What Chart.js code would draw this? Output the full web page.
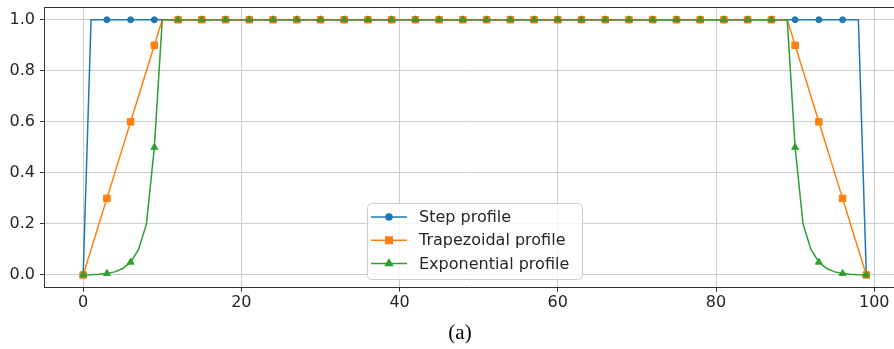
<!DOCTYPE html>
<html lang="en">
<head>
    <meta charset="UTF-8">
    <title>Profiles</title>
    <script src="https://cdn.jsdelivr.net/npm/chart.js"></script>
    <style>
        body {
            margin: 0;
            background: #ffffff;
        }
        .wrap {
            width: 894px;
            height: 349px;
        }
    </style>
</head>
<body>
    <div class="wrap">
        <canvas id="profileChart" width="894" height="349"></canvas>
    </div>

    <script>
        // sample positions (0..99)
        const xs = [
            0, 1, 2, 3, 4, 5, 6, 7, 8, 9,
            10, 11, 12, 13, 14, 15, 16, 17, 18, 19,
            20, 21, 22, 23, 24, 25, 26, 27, 28, 29,
            30, 31, 32, 33, 34, 35, 36, 37, 38, 39,
            40, 41, 42, 43, 44, 45, 46, 47, 48, 49,
            50, 51, 52, 53, 54, 55, 56, 57, 58, 59,
            60, 61, 62, 63, 64, 65, 66, 67, 68, 69,
            70, 71, 72, 73, 74, 75, 76, 77, 78, 79,
            80, 81, 82, 83, 84, 85, 86, 87, 88, 89,
            90, 91, 92, 93, 94, 95, 96, 97, 98, 99
        ];

        const stepProfile = [
            0, 1, 1, 1, 1, 1, 1, 1, 1, 1,
            1, 1, 1, 1, 1, 1, 1, 1, 1, 1,
            1, 1, 1, 1, 1, 1, 1, 1, 1, 1,
            1, 1, 1, 1, 1, 1, 1, 1, 1, 1,
            1, 1, 1, 1, 1, 1, 1, 1, 1, 1,
            1, 1, 1, 1, 1, 1, 1, 1, 1, 1,
            1, 1, 1, 1, 1, 1, 1, 1, 1, 1,
            1, 1, 1, 1, 1, 1, 1, 1, 1, 1,
            1, 1, 1, 1, 1, 1, 1, 1, 1, 1,
            1, 1, 1, 1, 1, 1, 1, 1, 1, 0
        ];

        const trapezoidalProfile = [
            0, 0.1, 0.2, 0.3, 0.4, 0.5, 0.6, 0.7, 0.8, 0.9,
            1, 1, 1, 1, 1, 1, 1, 1, 1, 1,
            1, 1, 1, 1, 1, 1, 1, 1, 1, 1,
            1, 1, 1, 1, 1, 1, 1, 1, 1, 1,
            1, 1, 1, 1, 1, 1, 1, 1, 1, 1,
            1, 1, 1, 1, 1, 1, 1, 1, 1, 1,
            1, 1, 1, 1, 1, 1, 1, 1, 1, 1,
            1, 1, 1, 1, 1, 1, 1, 1, 1, 1,
            1, 1, 1, 1, 1, 1, 1, 1, 1, 1,
            0.9, 0.8, 0.7, 0.6, 0.5, 0.4, 0.3, 0.2, 0.1, 0
        ];

        const exponentialProfile = [
            0, 0.001, 0.003, 0.006, 0.012, 0.025, 0.05, 0.1, 0.2, 0.5,
            1, 1, 1, 1, 1, 1, 1, 1, 1, 1,
            1, 1, 1, 1, 1, 1, 1, 1, 1, 1,
            1, 1, 1, 1, 1, 1, 1, 1, 1, 1,
            1, 1, 1, 1, 1, 1, 1, 1, 1, 1,
            1, 1, 1, 1, 1, 1, 1, 1, 1, 1,
            1, 1, 1, 1, 1, 1, 1, 1, 1, 1,
            1, 1, 1, 1, 1, 1, 1, 1, 1, 1,
            1, 1, 1, 1, 1, 1, 1, 1, 1, 1,
            0.5, 0.2, 0.1, 0.05, 0.025, 0.012, 0.006, 0.003, 0.001, 0
        ];

        const seriesLabels = ['Step profile', 'Trapezoidal profile', 'Exponential profile'];
        const xTicks = [0, 20, 40, 60, 80, 100];
        const yTicks = [0, 0.2, 0.4, 0.6, 0.8, 1.0];
        const caption = '(a)';

        const FONT = "'DejaVu Sans', sans-serif";
        const TEXT = '#262626';

        const toPoints = ys => xs.map((x, i) => ({ x: x, y: ys[i] }));
        // marker on every third sample, like markevery=3
        const everyThird = r => ctx => (ctx.dataIndex % 3 === 0 ? r : 0);

        function series(label, ys, color, style, r, order) {
            return {
                label: label,
                data: toPoints(ys),
                borderColor: color,
                backgroundColor: color,
                borderWidth: 1.5,
                tension: 0,
                pointStyle: style,
                pointRadius: everyThird(r),
                pointHoverRadius: everyThird(r),
                pointBorderWidth: 1,
                order: order,
                _r: r
            };
        }

        // legend box inside the plot, frame on top, caption below
        const extras = {
            id: 'extras',
            afterDraw(chart) {
                const ctx = chart.ctx;
                const a = chart.chartArea;
                ctx.save();

                // top spine
                ctx.strokeStyle = '#333333';
                ctx.lineWidth = 1;
                ctx.beginPath();
                ctx.moveTo(a.left, a.top + 0.5);
                ctx.lineTo(a.right, a.top + 0.5);
                ctx.stroke();

                // legend frame
                const bx = 367, by = 203, bw = 215, bh = 76;
                ctx.fillStyle = 'rgba(255,255,255,0.8)';
                ctx.strokeStyle = '#cccccc';
                ctx.beginPath();
                ctx.roundRect(bx + 0.5, by + 0.5, bw, bh, 4);
                ctx.fill();
                ctx.stroke();

                ctx.font = '16px ' + FONT;
                ctx.textBaseline = 'middle';
                ctx.textAlign = 'left';
                chart.data.datasets.forEach((ds, i) => {
                    const y = by + 14 + i * 23.3;
                    ctx.strokeStyle = ds.borderColor;
                    ctx.fillStyle = ds.backgroundColor;
                    ctx.lineWidth = 1.5;
                    ctx.beginPath();
                    ctx.moveTo(bx + 4, y);
                    ctx.lineTo(bx + 40, y);
                    ctx.stroke();
                    Chart.helpers.drawPoint(ctx, {
                        pointStyle: ds.pointStyle,
                        radius: ds._r,
                        rotation: 0,
                        borderWidth: 1
                    }, bx + 22, y);
                    ctx.fillStyle = TEXT;
                    ctx.fillText(ds.label, bx + 52, y + 1);
                });

                // caption
                ctx.font = "21px 'Liberation Serif', serif";
                ctx.textAlign = 'center';
                ctx.fillStyle = '#000000';
                ctx.fillText(caption, 460, 333);
                ctx.restore();
            }
        };

        new Chart(document.getElementById('profileChart'), {
            type: 'line',
            data: {
                datasets: [
                    series(seriesLabels[0], stepProfile, '#1f77b4', 'circle', 3, 3),
                    series(seriesLabels[1], trapezoidalProfile, '#ff7f0e', 'rect', 4.6, 2),
                    series(seriesLabels[2], exponentialProfile, '#2ca02c', 'triangle', 4, 1)
                ]
            },
            options: {
                responsive: false,
                animation: false,
                events: [],
                layout: {
                    autoPadding: false,
                    padding: { top: 7, right: 0, bottom: 0, left: 0 }
                },
                plugins: {
                    legend: { display: false },
                    tooltip: { enabled: false }
                },
                scales: {
                    x: {
                        type: 'linear',
                        min: -4.95,
                        max: 102.5,
                        afterFit: s => {
                            s.height = 61.3;
                            s.paddingLeft = 0;
                            s.paddingRight = 0;
                        },
                        afterBuildTicks: s => { s.ticks = xTicks.map(v => ({ value: v })); },
                        ticks: {
                            font: { family: FONT, size: 16 },
                            color: TEXT,
                            padding: 2,
                            maxRotation: 0
                        },
                        grid: {
                            color: '#cccccc',
                            lineWidth: 1,
                            tickLength: 4,
                            tickColor: '#333333'
                        },
                        border: { color: '#333333', width: 1 }
                    },
                    y: {
                        min: -0.05,
                        max: 1.05,
                        afterFit: s => {
                            s.width = 44;
                            s.paddingTop = 0;
                            s.paddingBottom = 0;
                        },
                        afterBuildTicks: s => { s.ticks = yTicks.map(v => ({ value: v })); },
                        ticks: {
                            font: { family: FONT, size: 16 },
                            color: TEXT,
                            padding: 5,
                            callback: v => v.toFixed(1)
                        },
                        grid: {
                            color: '#cccccc',
                            lineWidth: 1,
                            tickLength: 4,
                            tickColor: '#333333'
                        },
                        border: { color: '#333333', width: 1 }
                    }
                }
            },
            plugins: [extras]
        });
    </script>
</body>
</html>
